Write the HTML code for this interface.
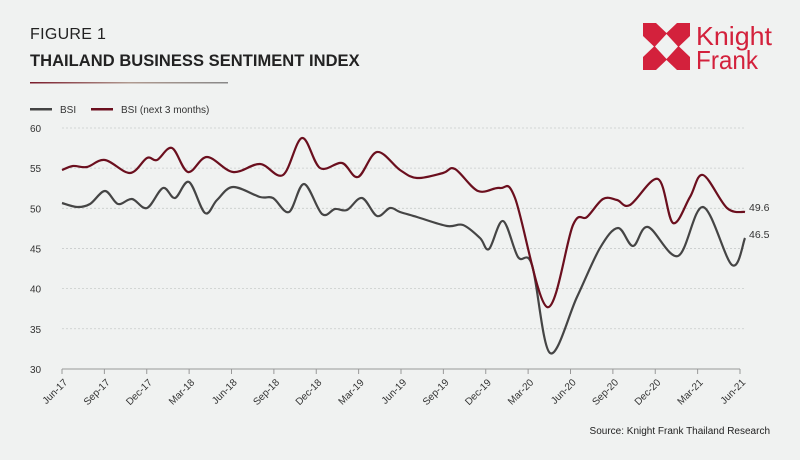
<!DOCTYPE html>
<html><head><meta charset="utf-8"><style>
html,body{margin:0;padding:0;background:#f0f2f1;}
body{width:800px;height:455px;overflow:hidden;font-family:"Liberation Sans",sans-serif;}
</style></head><body>
<svg id="s" width="800" height="455" xmlns="http://www.w3.org/2000/svg" font-family="Liberation Sans, sans-serif">
<defs><linearGradient id="g" x1="0" x2="1"><stop offset="0" stop-color="#7a1a2a"/><stop offset="0.5" stop-color="#b09a90"/><stop offset="1" stop-color="#888"/></linearGradient></defs>
<text x="30" y="39" font-size="16" fill="#222" style="letter-spacing:0.3px">FIGURE 1</text>
<text x="30" y="66" font-size="16.5" fill="#222" font-weight="bold" style="letter-spacing:0.4px" textLength="330">THAILAND BUSINESS SENTIMENT INDEX</text>
<rect x="30" y="82" width="198" height="1.5" fill="url(#g)"/>
<rect x="643" y="23" width="47" height="47" fill="#d3213c"/>
<polygon points="666.5,34 678,46.5 666.5,59 655,46.5" fill="#f0f2f1"/>
<polygon points="656,23 677,23 666.5,33" fill="#f0f2f1"/>
<polygon points="656,70 677,70 666.5,60" fill="#f0f2f1"/>
<polygon points="643,36 643,57 654,46.5" fill="#f0f2f1"/>
<polygon points="690,36 690,57 679,46.5" fill="#f0f2f1"/>
<text x="696" y="45" font-size="26" fill="#d3213c" textLength="76" lengthAdjust="spacingAndGlyphs">Knight</text>
<text x="696" y="69" font-size="26" fill="#d3213c" textLength="62" lengthAdjust="spacingAndGlyphs">Frank</text>
<rect x="30" y="108" width="22" height="2.5" fill="#444"/>
<text x="60" y="113" font-size="10" fill="#333">BSI</text>
<rect x="91" y="108" width="22" height="2.5" fill="#6b0f1e"/>
<text x="121" y="113" font-size="10" fill="#333">BSI (next 3 months)</text>
<g id="grid"></g>
<g id="series"></g>
<text x="749" y="211" font-size="10.5" fill="#333">49.6</text>
<text x="749" y="238" font-size="10.5" fill="#333">46.5</text>
<text x="770" y="434" font-size="10" fill="#222" text-anchor="end">Source: Knight Frank Thailand Research</text>
</svg>
<script>
const NS="http://www.w3.org/2000/svg";
const grid=document.getElementById('grid'),ser=document.getElementById('series');
function el(t,a,p,txt){const e=document.createElementNS(NS,t);for(const k in a)e.setAttribute(k,a[k]);if(txt)e.textContent=txt;(p||grid).appendChild(e);return e;}
const Y=v=>128+(60-v)*8.03;
for(let v=30;v<=60;v+=5){const y=Y(v);
 if(v>30)el('line',{x1:62,x2:746,y1:y,y2:y,stroke:'#c8cccb','stroke-width':0.8,'stroke-dasharray':'2,2'});
 el('text',{x:30,y:y+4,'font-size':10,fill:'#333'},null,String(v));}
el('line',{x1:62,x2:740,y1:369,y2:369,stroke:'#999','stroke-width':1});
const labs=['Jun-17','Sep-17','Dec-17','Mar-18','Jun-18','Sep-18','Dec-18','Mar-19','Jun-19','Sep-19','Dec-19','Mar-20','Jun-20','Sep-20','Dec-20','Mar-21','Jun-21'];
labs.forEach((l,i)=>{const x=62+i*(678/16);
 el('line',{x1:x,x2:x,y1:369,y2:374,stroke:'#999','stroke-width':1});
 el('text',{x:0,y:0,'font-size':10,fill:'#333','text-anchor':'end',transform:`translate(${x+6},${383}) rotate(-45)`},null,l);});
const red=[[62,170],[73,166],[87,167],[105,160],[130,173],[147,158],[157,160],[172,148],[188,172],[207,157],[233,172],[260,164],[283,175],[302,138],[320,168],[342,163],[358,177],[377,152],[400,170],[417,178],[443,173],[455,169],[478,191],[500,188],[515,198],[547,307],[573,225],[587,217],[603,199],[617,200],[630,205],[658,179],[673,223],[690,197],[703,175],[727,208],[745,212]];
const gray=[[62,203],[77,207],[90,204],[105,191],[118,204],[132,199],[147,208],[163,188],[175,198],[189,182],[205,213],[217,200],[233,187],[260,197],[273,198],[289,212],[304,184],[322,214],[335,209],[347,210],[362,198],[377,216],[390,208],[400,212],[417,217],[447,226],[463,225],[480,238],[489,249],[503,221],[518,257],[532,265],[550,353],[577,297],[600,248],[618,228],[633,246],[648,227],[678,256],[703,207],[732,265],[745,238]];
function path(p){let d=`M${p[0][0]},${p[0][1]}`;for(let i=0;i<p.length-1;i++){const p0=p[i-1]||p[i],p1=p[i],p2=p[i+1],p3=p[i+2]||p2;const t=6;
 d+=` C${p1[0]+(p2[0]-p0[0])/t},${p1[1]+(p2[1]-p0[1])/t} ${p2[0]-(p3[0]-p1[0])/t},${p2[1]-(p3[1]-p1[1])/t} ${p2[0]},${p2[1]}`;}return d;}
el('path',{d:path(gray),fill:'none',stroke:'#454545','stroke-width':2.2},ser);
el('path',{d:path(red),fill:'none',stroke:'#6b0f1e','stroke-width':2.2},ser);
</script>
</body></html>
